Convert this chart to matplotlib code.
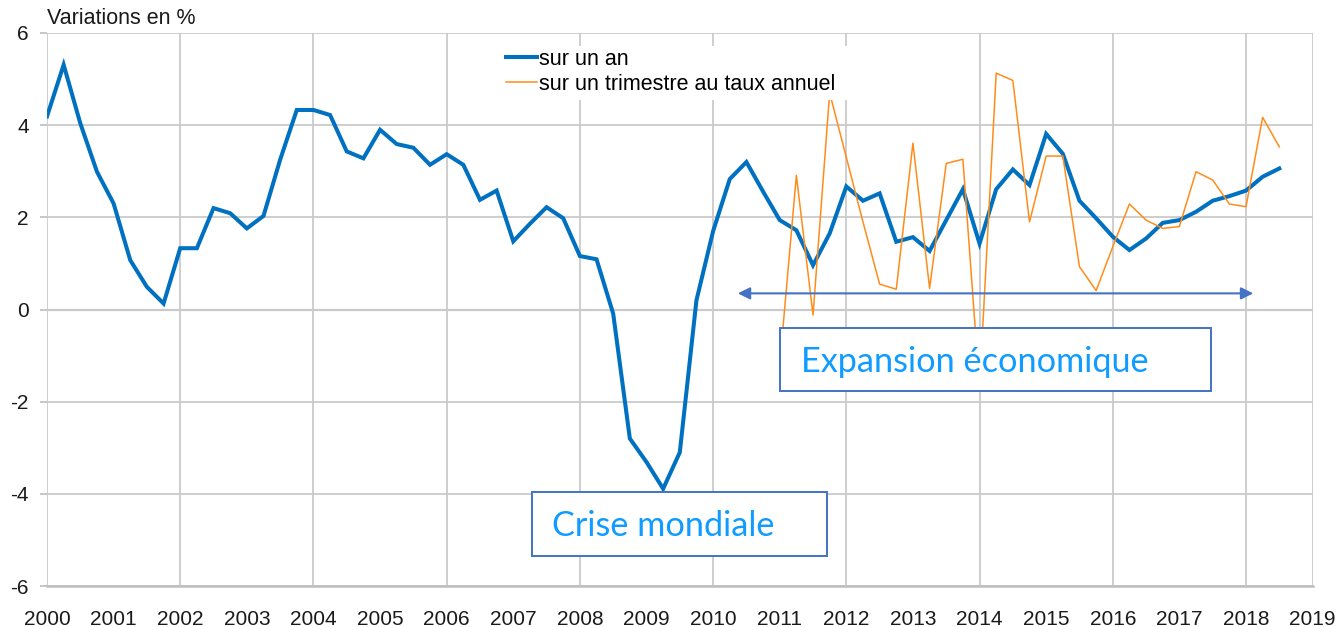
import matplotlib
matplotlib.use("Agg")
import matplotlib.pyplot as plt
from matplotlib.patches import Rectangle, FancyArrowPatch
from matplotlib.lines import Line2D
import numpy as np

# ---- data ----
years = list(range(2000, 2020))
y_ticks = [-6, -4, -2, 0, 2, 4, 6]

annual_start = 2000.0
annual = [4.19, 5.31, 4.04, 2.99,
          2.30, 1.07, 0.49, 0.13,
          1.33, 1.33, 2.20, 2.09,
          1.76, 2.03, 3.25, 4.33,
          4.33, 4.22, 3.43, 3.28,
          3.90, 3.59, 3.51, 3.14,
          3.37, 3.14, 2.38, 2.58,
          1.48, 1.86, 2.22, 1.98,
          1.16, 1.09, -0.09, -2.80,
          -3.31, -3.89, -3.10, 0.20,
          1.70, 2.83, 3.20, 2.56,
          1.94, 1.72, 0.96, 1.65,
          2.67, 2.36, 2.52, 1.47,
          1.57, 1.27, 1.94, 2.61,
          1.43, 2.61, 3.04, 2.70,
          3.81, 3.38, 2.36, 1.98,
          1.58, 1.29, 1.54, 1.88,
          1.94, 2.12, 2.36, 2.46,
          2.58, 2.88, 3.06]

quarterly_start = 2011.0
quarterly = [-1.2, 2.91, -0.12, 4.70,
             3.30, 1.90, 0.55, 0.44,
             3.61, 0.46, 3.17, 3.26,
             -1.7, 5.13, 4.97, 1.90,
             3.33, 3.33, 0.93, 0.41,
             1.36, 2.29, 1.94, 1.76,
             1.80, 2.99, 2.81, 2.29,
             2.23, 4.17, 3.53]

labels = ["sur un an", "sur un trimestre au taux annuel"]
ylabel_text = "Variations en %"
annot_expansion = "Expansion économique"
annot_crise = "Crise mondiale"

# ---- figure ----
W, H = 1339, 627
fig = plt.figure(figsize=(W / 100, H / 100), dpi=100)
x0, x1, ytop, ybot = 47, 1312.6, 33, 586
ax = fig.add_axes([x0 / W, 1 - ybot / H, (x1 - x0) / W, (ybot - ytop) / H])

blue = "#0070C0"
orange = "#FF8C1A"
grid_c = "#CACACA"
box_c = "#4472C4"
txt_c = "#0F9BFF"
font = ["Liberation Sans", "DejaVu Sans"]

xa = annual_start + np.arange(len(annual)) * 0.25
xq = quarterly_start + np.arange(len(quarterly)) * 0.25

ax.set_xlim(2000, 2019)
ax.set_ylim(-6, 6)


def px2x(px):
    return 2000 + (px - x0) / (x1 - x0) * 19


def py2y(py):
    return 6 - (py - ytop) / (ybot - ytop) * 12


# grid
for yv in y_ticks:
    ax.axhline(yv, color=grid_c, lw=1.3 if yv != 0 else 1.6, zorder=1)
for xv in years:
    if xv % 2 == 0 or xv == 2019:
        ax.axvline(xv, color=grid_c, lw=1.3, zorder=1)

for s in ["top", "right", "left"]:
    ax.spines[s].set_visible(False)
ax.spines["bottom"].set_color("#BEBEBE")
ax.spines["bottom"].set_linewidth(1.8)

ax.plot(xa, annual, color=blue, lw=2.9, zorder=3, solid_joinstyle="miter")
ax.plot(xq, quarterly, color=orange, lw=1.1, zorder=4)

# ticks
ax.set_xticks(years)
ax.set_xticklabels([str(y) for y in years], fontsize=15, family=font, color="#1a1a1a")
ax.tick_params(axis="x", length=0, pad=17)
ax.set_xticks([y for y in years if y % 2 == 1 and y < 2019], minor=True)
ax.tick_params(axis="x", which="minor", direction="in", length=6.5, width=1, color="#202020")

ax.set_yticks(y_ticks)
ax.set_yticklabels([str(v) for v in y_ticks], fontsize=15, family=font, color="#1a1a1a")
ax.tick_params(axis="y", length=5, width=1.2, color="#BEBEBE", pad=8)

fig.text(x0 / W, 1 - 18 / H, ylabel_text, fontsize=15.5, family=font,
         color="#1a1a1a", va="center", ha="left")

# legend background (white area hiding grid and lines)
ax.add_patch(Rectangle((px2x(497), py2y(100)), px2x(851) - px2x(497), py2y(46) - py2y(100),
                       facecolor="white", edgecolor="none", zorder=4.5))
handles = [Line2D([], [], color=blue, lw=2.9), Line2D([], [], color=orange, lw=1.1)]
leg = ax.legend(handles, labels, loc="upper left",
                bbox_to_anchor=((496 - x0) / (x1 - x0), (ybot - 39) / (ybot - ytop)),
                frameon=False, prop={"family": font, "size": 15.5},
                handlelength=1.45, handletextpad=0.12, labelspacing=0.18, borderpad=0.45, borderaxespad=0)
leg.set_zorder(5)

# arrow
arr = FancyArrowPatch((2010.33, 0.35), (2018.15, 0.35), arrowstyle="<|-|>", mutation_scale=18,
                      color=box_c, lw=1.5, zorder=5)
ax.add_patch(arr)

ann_font = ["Lato", "DejaVu Sans"]
for (l, r, t, b, tx, txt) in [(780, 1211, 328, 391, 801, annot_expansion), (532, 827, 492, 556, 552, annot_crise)]:
    rect = Rectangle((px2x(l), py2y(b)), px2x(r) - px2x(l), py2y(t) - py2y(b),
                     facecolor="white", edgecolor=box_c, lw=1.4, zorder=6)
    ax.add_patch(rect)
    ax.text(px2x(tx), py2y((t + b) / 2 + 2), txt, fontsize=24.7, family=ann_font, color=txt_c,
            ha="left", va="center", zorder=7)

fig.savefig("out.png", dpi=100, facecolor="white")
